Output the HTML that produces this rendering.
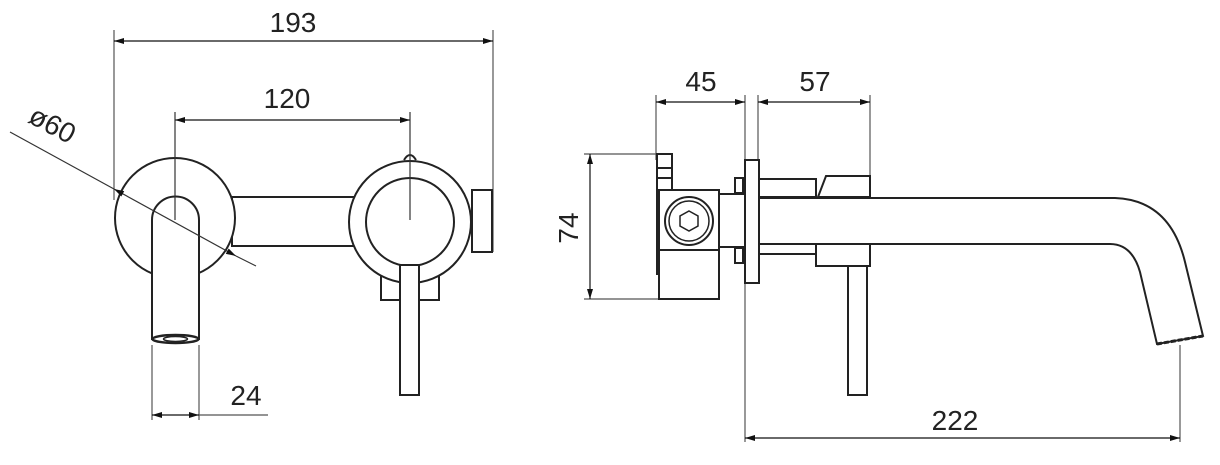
<!DOCTYPE html>
<html><head><meta charset="utf-8"><style>
html,body{margin:0;padding:0;background:#fff}
svg{display:block}
text{font-family:"Liberation Sans",sans-serif;font-size:28px;fill:#222}
</style></head><body>
<svg width="1220" height="465" viewBox="0 0 1220 465" xmlns="http://www.w3.org/2000/svg">
<defs>
<marker id="a" viewBox="0 0 10 6" refX="10" refY="3" markerWidth="16" markerHeight="6" markerUnits="userSpaceOnUse" orient="auto-start-reverse"><path d="M0,0 L10,3 L0,6 z" fill="#111"/></marker>
</defs>
<g stroke="#555" stroke-width="1.2" fill="none">
<line x1="114" y1="30" x2="114" y2="200"/>
<line x1="493" y1="30" x2="493" y2="252"/>
<line x1="114" y1="41" x2="493" y2="41" stroke="#111" marker-start="url(#a)" marker-end="url(#a)"/>
<line x1="175" y1="120" x2="410" y2="120" stroke="#111" marker-start="url(#a)" marker-end="url(#a)"/>
<line x1="152" y1="345" x2="152" y2="420"/>
<line x1="199" y1="345" x2="199" y2="420"/>
<line x1="152" y1="415" x2="199" y2="415" stroke="#111" marker-start="url(#a)" marker-end="url(#a)"/>
<line x1="199" y1="415" x2="268" y2="415"/>
<line x1="656" y1="95" x2="656" y2="160"/>
<line x1="745" y1="95" x2="745" y2="442"/>
<line x1="656" y1="102" x2="745" y2="102" stroke="#111" marker-start="url(#a)" marker-end="url(#a)"/>
<line x1="758" y1="95" x2="758" y2="160"/>
<line x1="870" y1="95" x2="870" y2="176"/>
<line x1="758" y1="102" x2="870" y2="102" stroke="#111" marker-start="url(#a)" marker-end="url(#a)"/>
<line x1="584" y1="154" x2="662" y2="154"/>
<line x1="584" y1="299" x2="662" y2="299"/>
<line x1="590" y1="154" x2="590" y2="299" stroke="#111" marker-start="url(#a)" marker-end="url(#a)"/>
<line x1="1180" y1="345" x2="1180" y2="442"/>
<line x1="745" y1="438" x2="1180" y2="438" stroke="#111" marker-start="url(#a)" marker-end="url(#a)"/>
</g>
<g stroke="#222" stroke-width="2" fill="#fff">
<rect x="232" y="197" width="125" height="49"/>
<circle cx="175" cy="218" r="60"/>
<path d="M152,340 L152,220 A23.5,23.5 0 0 1 199,220 L199,340"/>
<ellipse cx="175.5" cy="339" rx="23" ry="4" stroke-width="2.5"/>
<ellipse cx="175.5" cy="339" rx="12" ry="2.5" stroke-width="1.5"/>
<rect x="472" y="190" width="20" height="62"/>
<rect x="381" y="262" width="58" height="38"/>
<path d="M404,160 Q410,150 416,160" />
<circle cx="410" cy="222" r="61"/>
<circle cx="410" cy="222" r="44"/>
<rect x="400" y="265" width="19" height="130"/>
<rect x="657" y="154" width="15" height="120"/>
<line x1="657" y1="168" x2="672" y2="168"/><line x1="657" y1="178" x2="672" y2="178"/>
<line x1="657" y1="255" x2="672" y2="255"/><line x1="657" y1="265" x2="672" y2="265"/>
<rect x="659" y="190" width="60" height="109"/>
<line x1="659" y1="250" x2="719" y2="250"/>
<circle cx="689" cy="221" r="24"/>
<circle cx="689" cy="221" r="20" stroke-width="1.5"/>
<polygon points="689,211 698,216 698,226 689,231 680,226 680,216" stroke-width="1.5"/>
<rect x="719" y="194" width="26" height="53"/>
<rect x="735" y="178" width="8" height="15"/>
<rect x="735" y="248" width="8" height="15"/>
<rect x="745" y="160" width="14" height="123"/>
<rect x="759" y="179" width="57" height="18"/>
<path d="M818,197 L826,176 L870,176 L870,197 Z"/>
<rect x="759" y="244" width="57" height="10"/>
<rect x="816" y="244" width="54" height="22"/>
<rect x="848" y="266" width="19" height="129"/>
<path d="M759,198 L1115,198 Q1170,200 1185,262 L1203,336 L1157,344 L1140,272 Q1132,244 1110,244 L759,244 Z"/>
<line x1="1157" y1="344" x2="1203" y2="336" stroke-width="3" stroke-dasharray="5 2"/>
</g>
<g stroke="#333" stroke-width="1.2" fill="none">
<line x1="175" y1="112" x2="175" y2="220"/>
<line x1="410" y1="112" x2="410" y2="220"/>
<line x1="10" y1="132" x2="114" y2="189"/>
<line x1="114" y1="189" x2="236" y2="256" marker-start="url(#a)" marker-end="url(#a)"/>
<line x1="236" y1="256" x2="256" y2="266"/>
</g>
<text x="293" y="32" text-anchor="middle">193</text>
<text x="287" y="108" text-anchor="middle">120</text>
<text x="246" y="405" text-anchor="middle">24</text>
<text x="48" y="133" text-anchor="middle" transform="rotate(28 48 133)">ø60</text>
<text x="701" y="91" text-anchor="middle">45</text>
<text x="815" y="91" text-anchor="middle">57</text>
<text x="578" y="228" text-anchor="middle" transform="rotate(-90 578 228)">74</text>
<text x="955" y="430" text-anchor="middle">222</text>
</svg>
</body></html>
